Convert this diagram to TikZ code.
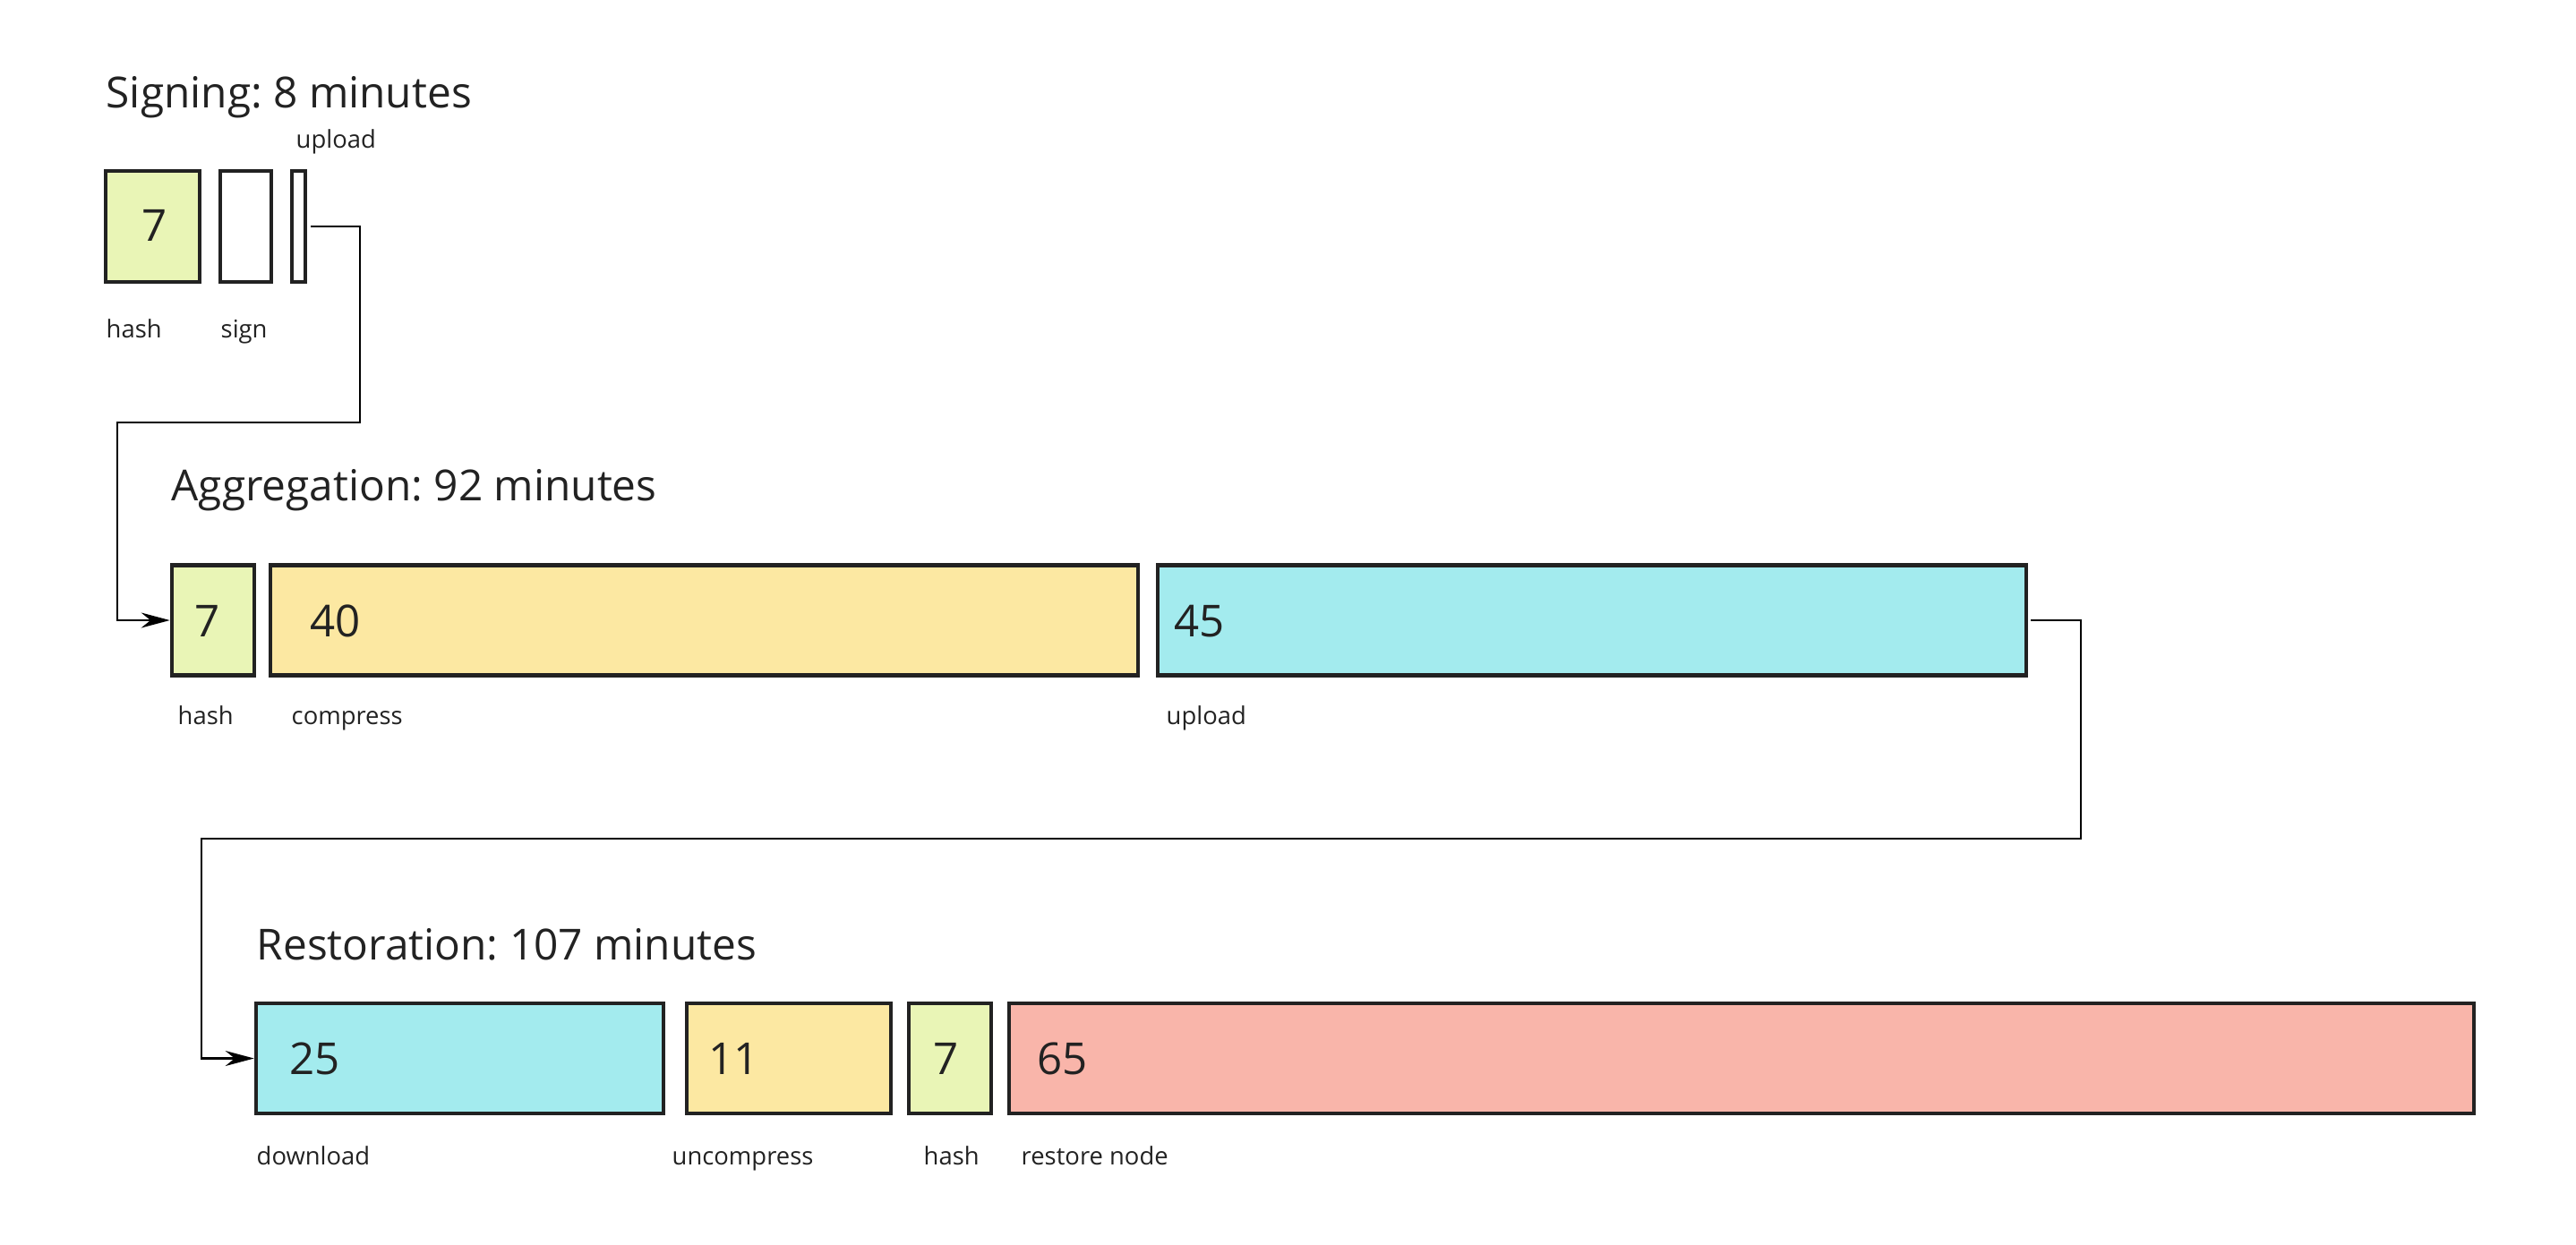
\documentclass[tikz,border=0pt]{standalone}
\usepackage{fontspec}
\setmainfont{Open Sans}
\usepackage{tikz}
\usetikzlibrary{arrows.meta}
\frenchspacing

\definecolor{hashgreen}{HTML}{E9F5B6}
\definecolor{zipyellow}{HTML}{FCE8A2}
\definecolor{netcyan}{HTML}{A3EBEE}
\definecolor{restorered}{HTML}{F9B5AA}
\definecolor{inkgray}{HTML}{222222}

\begin{document}
\begin{tikzpicture}[
  stage/.style={rectangle,draw=inkgray,line width=1.3pt,inner sep=0pt,minimum height=1.23cm},
  title/.style={font=\fontsize{13.6}{16.5}\selectfont,text=inkgray,anchor=base west,inner sep=0pt},
  num/.style={font=\fontsize{14}{17}\selectfont,text=inkgray,anchor=base west,inner sep=0pt},
  lbl/.style={font=\fontsize{7.8}{9.5}\selectfont,text=inkgray,anchor=base west,inner sep=0pt},
  link/.style={draw=black,line width=0.6pt,-{Stealth[length=3.2mm,width=1.7mm]}},
]
\useasboundingbox (0,0) rectangle (28.77,-13.9);

% signing
\node[title] (sigtitle) at (1.18,-1.20) {Signing: 8 minutes};
\node[stage,fill=hashgreen,minimum width=1.05cm,minimum height=1.24cm] (sighash) at (1.705,-2.53) {};
\node[stage,fill=white,minimum width=0.57cm,minimum height=1.24cm] (sigsign) at (2.745,-2.53) {};
\node[stage,fill=white,minimum width=0.15cm,minimum height=1.24cm] (sigup) at (3.335,-2.53) {};
\node[num,anchor=base] (sighashval) at (1.73,-2.69) {7};
\node[lbl] (sigupname) at (3.30,-1.65) {upload};
\node[lbl] (sighashname) at (1.18,-3.77) {hash};
\node[lbl] (signame) at (2.46,-3.77) {sign};

% aggregation
\node[title] (aggtitle) at (1.91,-5.59) {Aggregation: 92 minutes};
\node[stage,fill=hashgreen,minimum width=0.92cm] (agghash) at (2.38,-6.93) {};
\node[stage,fill=zipyellow,minimum width=9.69cm] (aggzip) at (7.865,-6.93) {};
\node[stage,fill=netcyan,minimum width=9.70cm] (aggup) at (17.78,-6.93) {};
\node[num,anchor=base] (agghashval) at (2.32,-7.11) {7};
\node[num] (aggzipval) at (3.46,-7.11) {40};
\node[num] (aggupval) at (13.11,-7.11) {45};
\node[lbl] (agghashname) at (1.98,-8.09) {hash};
\node[lbl] (aggzipname) at (3.25,-8.09) {compress};
\node[lbl] (aggupname) at (13.02,-8.09) {upload};

% restoration
\node[title] (resttitle) at (2.86,-10.72) {Restoration: 107 minutes};
\node[stage,fill=netcyan,minimum width=4.55cm] (restdl) at (5.135,-11.825) {};
\node[stage,fill=zipyellow,minimum width=2.28cm] (restunzip) at (8.81,-11.825) {};
\node[stage,fill=hashgreen,minimum width=0.92cm] (resthash) at (10.61,-11.825) {};
\node[stage,fill=restorered,minimum width=16.36cm] (restnode) at (19.45,-11.825) {};
\node[num] (restdlval) at (3.23,-12.00) {25};
\node[num] (restunzipval) at (7.91,-12.00) {11};
\node[num,anchor=base] (resthashval) at (10.57,-12.00) {7};
\node[num] (restnodeval) at (11.58,-12.00) {65};
\node[lbl] (restdlname) at (2.86,-13.01) {download};
\node[lbl] (restunzipname) at (7.50,-13.01) {uncompress};
\node[lbl] (resthashname) at (10.31,-13.01) {hash};
\node[lbl] (restnodename) at (11.40,-13.01) {restore node};

% connectors
\coordinate (turnA) at (4.02,-4.72);
\coordinate (turnB) at (1.31,-4.72);
\draw[link] ([xshift=0.04cm]sigup.east) -| (turnA) -- (turnB) |- (agghash.west);
\coordinate (turnC) at (23.24,-9.37);
\coordinate (turnD) at (2.25,-9.37);
\draw[link] ([xshift=0.03cm]aggup.east) -| (turnC) -- (turnD) |- (restdl.west);

\end{tikzpicture}
\end{document}
